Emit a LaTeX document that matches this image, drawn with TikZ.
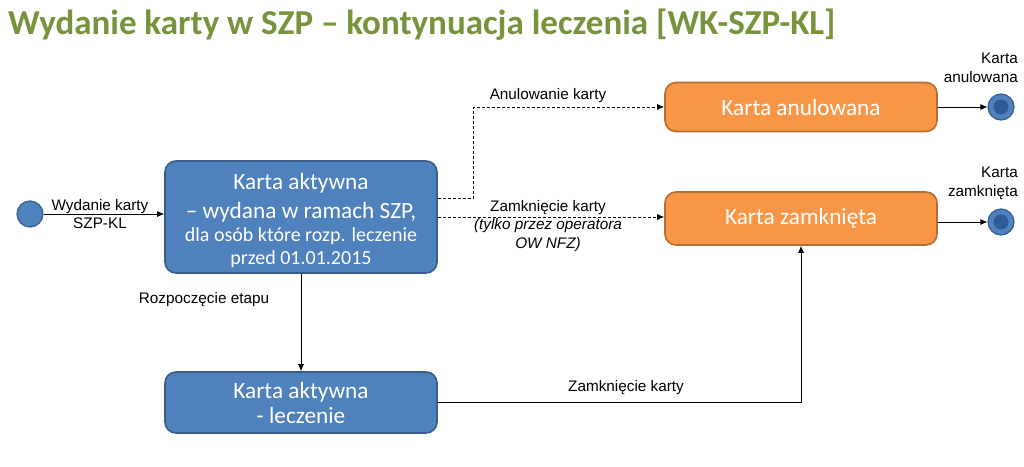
\documentclass[tikz,border=0pt]{standalone}
\usepackage{fontspec}
\setmainfont{Carlito}
\newfontfamily\arialf{Liberation Sans}
\usetikzlibrary{arrows.meta}
\definecolor{bluefill}{HTML}{4F81BD}
\definecolor{blueedge}{HTML}{385D8A}
\definecolor{blueinner}{HTML}{2F5C96}
\definecolor{orfill}{HTML}{F79646}
\definecolor{oredge}{HTML}{B66D31}
\definecolor{titlegreen}{HTML}{77933C}
\begin{document}
\begin{tikzpicture}[x=1pt,y=-1pt,
  statebox/.style={line width=1.6pt,rounded corners=11pt,text=white,align=center,inner sep=0pt,minimum width=272pt},
  bluebox/.style={statebox,draw=blueedge,fill=bluefill},
  orbox/.style={statebox,draw=oredge,fill=orfill},
  bigtxt/.style={font=\fontsize{23.3}{25}\selectfont},
  lbl/.style={font=\arialf\fontsize{15.3}{18.5}\selectfont,inner sep=0pt,align=center},
  conn/.style={line width=0.8pt,-{Latex[length=7pt,width=6pt]}},
  dconn/.style={conn,dashed,dash pattern=on 3pt off 2pt},
  startdot/.style={circle,draw=blueedge,fill=bluefill,line width=1.2pt,minimum size=26pt,inner sep=0pt},
  enddot/.style={circle,draw=blueedge,fill=bluefill,line width=1.2pt,minimum size=26pt,inner sep=0pt,
    path picture={\fill[blueinner] (path picture bounding box.center) circle (7.5pt);}}]
\useasboundingbox (0,0) rectangle (1024,466);

\node[anchor=base west,text=titlegreen,font=\bfseries\fontsize{35}{40}\selectfont,inner sep=0pt] (title) at (8,34)
  {Wydanie karty w SZP – kontynuacja leczenia [WK-SZP-KL]};

\node[startdot] (s) at (30,214) {};

\node[bluebox,font=\fontsize{23.3}{23}\selectfont,minimum height=112pt] (A) at (301,217)
  {\rule{0pt}{23pt}Karta aktywna\\[6pt]
   – wydana w ramach SZP,\\
   {\fontsize{20}{23}\selectfont dla osób które rozp. leczenie}\\
   {\fontsize{20}{23}\selectfont przed 01.01.2015}};

\node[bluebox,bigtxt,minimum height=61pt] (B) at (301,402.5)
  {Karta aktywna\\- leczenie};

\node[orbox,bigtxt,minimum height=49pt] (C) at (801,107) {Karta anulowana};
\node[orbox,bigtxt,minimum height=53pt] (D) at (801,218.5) {Karta zamknięta};

\node[enddot] (e1) at (1001,107) {};
\node[enddot] (e2) at (1001,222) {};

% connectors
\draw[conn] (s.east) -- (s.east -| A.west);
\draw[conn] (A.south) -- (B.north);
\draw[dconn] ([yshift=19pt]A.east) -- ++(36,0) |- (C.west);
\draw[dconn] (A.east) -- (A.east -| D.west);
\draw[conn] (B.east) -| (D.south);
\draw[conn] (C.east) -- (e1.west);
\draw[conn] (D.east |- e2.west) -- (e2.west);

% labels
\node[lbl] (l1) at (100,214) {Wydanie karty\\SZP-KL};
\node[lbl] (l2) at (204,300) {Rozpoczęcie etapu};
\node[lbl] (l3) at (548,96) {Anulowanie karty};
\node[lbl] (l4) at (548,226) {Zamknięcie karty\\\textit{(tylko przez operatora}\\\textit{OW NFZ)}};
\node[lbl] (l5) at (626,388) {Zamknięcie karty};
\node[lbl,align=right,anchor=north east] (l6) at (1018,53) {Karta\\anulowana};
\node[lbl,align=right,anchor=north east] (l7) at (1018,167) {Karta\\zamknięta};
\end{tikzpicture}
\end{document}
